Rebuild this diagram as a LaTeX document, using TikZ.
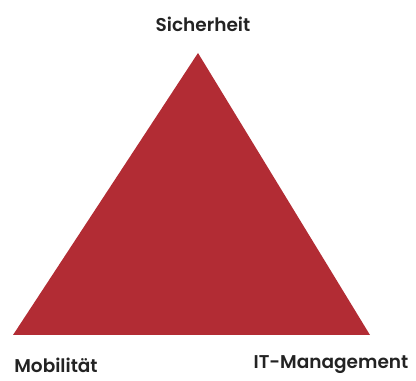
\documentclass[tikz,border=0pt]{standalone}
\usepackage{fontspec}
\setmainfont{Poppins}[BoldFont={* SemiBold}]
\definecolor{tri}{RGB}{178,44,52}
\definecolor{lbl}{RGB}{35,35,35}
\tikzset{lab/.style={font=\bfseries\fontsize{18.5}{20}\selectfont, text=lbl, inner sep=0pt}}
\begin{document}
\begin{tikzpicture}[x=1pt,y=1pt]
\useasboundingbox (0,0) rectangle (416,381);
\coordinate (apex) at (198,328);
\coordinate (bl) at (13,46);
\coordinate (br) at (370,46);
\fill[tri] (apex) -- (bl) -- (br) -- cycle;
\node[lab] (s) at (203,357) {Sicherheit};
\node[lab] (m) at (56,16) {Mobilität};
\node[lab] (it) at (331,16) {IT-Management};
\end{tikzpicture}
\end{document}
